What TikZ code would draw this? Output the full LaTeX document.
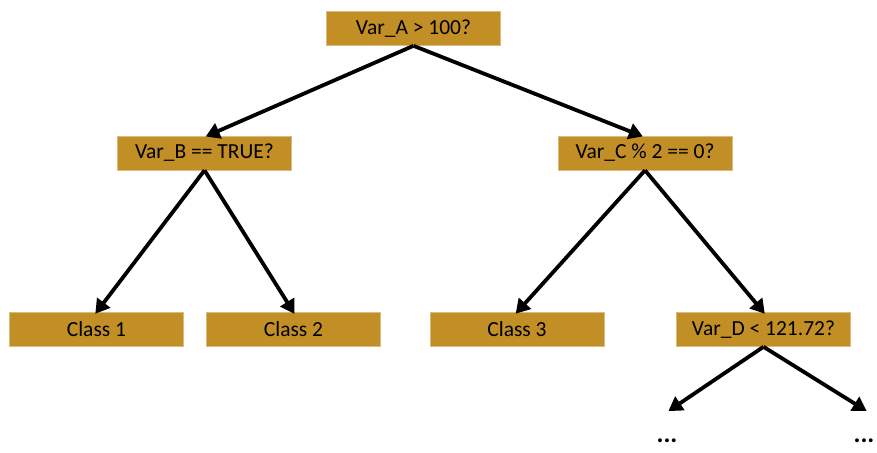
\documentclass[tikz,border=0pt]{standalone}
\usepackage{fontspec}
\setmainfont{Carlito}
\usetikzlibrary{arrows.meta}
\definecolor{gold}{RGB}{194,142,38}
\begin{document}
\begin{tikzpicture}[x=1pt,y=-1pt,
  box/.style={fill=gold,draw=gold!60!white,line width=0.6pt,minimum width=174pt,minimum height=34pt,inner sep=0pt,font=\fontsize{21.5}{24}\selectfont},
  conn/.style={line width=3.8pt,-{Triangle[length=14pt,width=16pt]},shorten >=-2pt},
  dots/.style={font=\fontsize{26}{28}\bfseries\selectfont,inner sep=0pt}]
\useasboundingbox (0,0) rectangle (877,452);
\node[box] (a) at (413.5,28.5) {Var\_A > 100?};
\node[box] (b) at (204.5,153) {Var\_B == TRUE?};
\node[box] (c) at (645,153) {Var\_C \% 2 == 0?};
\node[box] (c1) at (96.5,329.5) {Class 1};
\node[box] (c2) at (293.5,329.5) {Class 2};
\node[box] (c3) at (517,329.5) {Class 3};
\node[box] (d) at (763.5,329.5) {Var\_D < 121.72?};
\coordinate (e1) at (670,410);
\coordinate (e2) at (865,410);
\node[dots] (f1) at (667,441) {...};
\node[dots] (f2) at (864,441) {...};
\draw[conn] (a.south) -- ([xshift=3pt]b.north);
\draw[conn] (a.south) -- ([xshift=-4pt]c.north);
\draw[conn] (b.south) -- (c1.north);
\draw[conn] (b.south) -- (c2.north);
\draw[conn] (c.south) -- (c3.north);
\draw[conn] (c.south) -- (d.north);
\draw[conn] (d.south) -- (e1);
\draw[conn] (d.south) -- (e2);
\end{tikzpicture}
\end{document}
